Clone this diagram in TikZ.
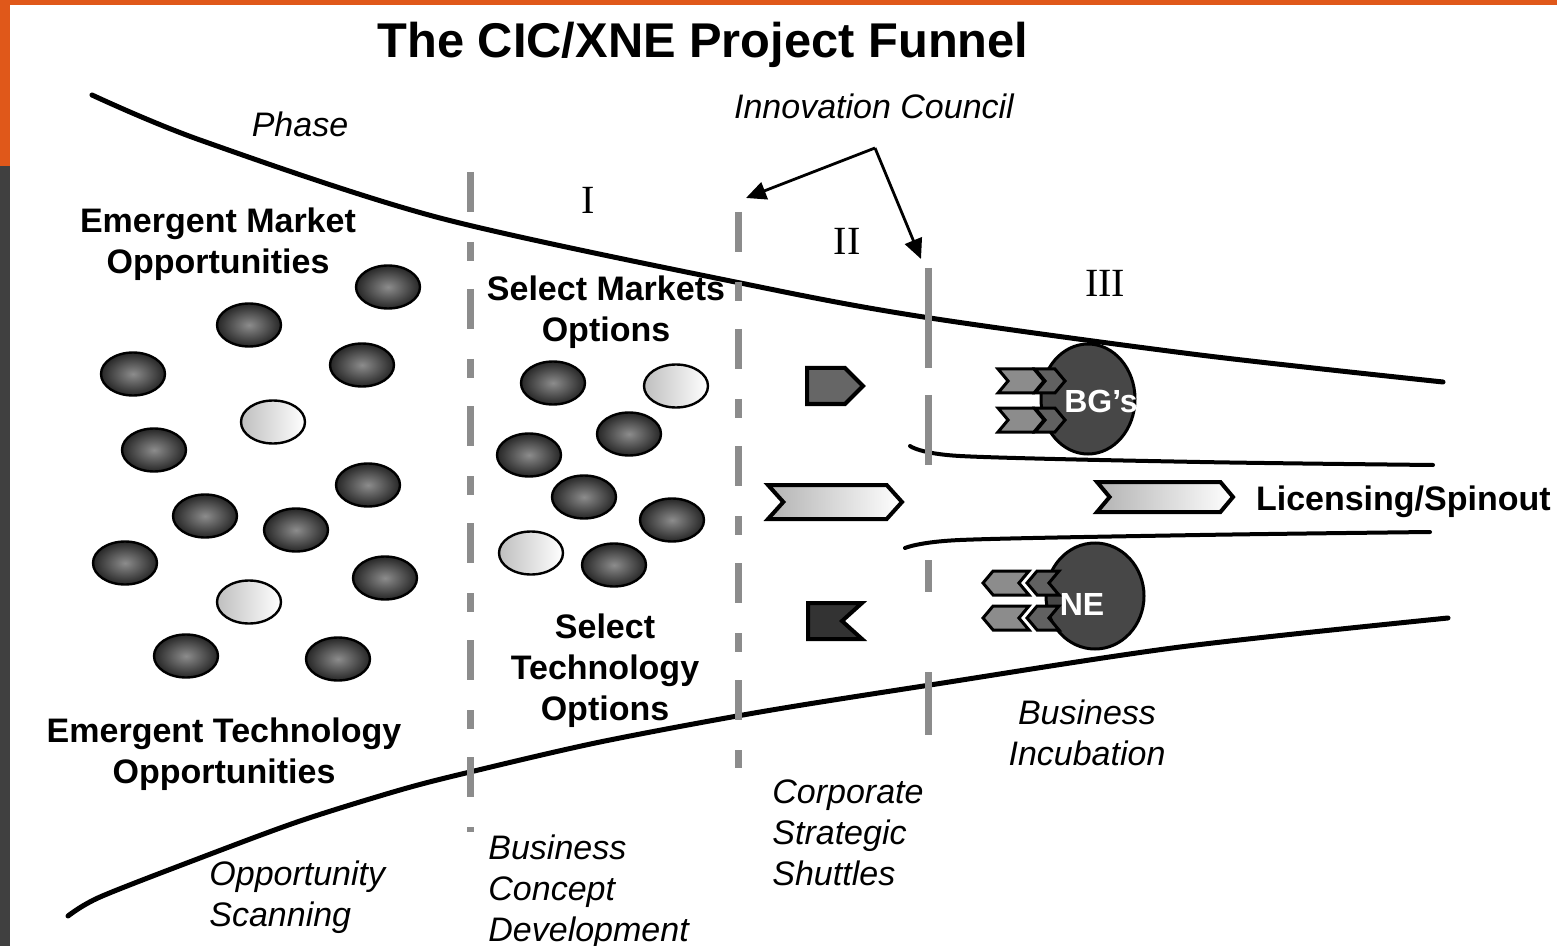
\documentclass[tikz,border=0pt]{standalone}
\usepackage{fontspec}
\setmainfont{Liberation Sans}
\newfontfamily\romfont{Liberation Serif}
\usetikzlibrary{positioning,shapes.geometric,shapes.symbols,arrows.meta}
\definecolor{barorange}{RGB}{224,88,26}
\definecolor{bargray}{RGB}{64,64,64}
\tikzset{
  funnel/.style={line width=2.5pt, line cap=round},
  channel/.style={line width=2pt, line cap=round},
  gate/.style={line width=3.5pt, draw=black!45, dash pattern=on 20pt off 15pt on 9.5pt off 14pt},
  coin/.style={ellipse, draw=black, line width=1.2pt, inner sep=0pt, minimum width=32pt, minimum height=21.5pt, inner color=black!45, outer color=black!85},
  palecoin/.style={coin, left color=black!25, right color=white},
  chev/.style={shape=signal, draw=black, line width=1.5pt, fill=black!45, inner sep=0pt, signal pointer angle=100, minimum width=23pt, minimum height=12pt},
  notch/.style={chev, fill=black!62},
  blob/.style={ellipse, draw=black, line width=1.5pt, fill=black!72, inner sep=0pt},
  blobtxt/.style={font=\bfseries\fontsize{16}{18}\selectfont, text=white, inner sep=0pt},
  boldlbl/.style={font=\bfseries\fontsize{17}{20.5}\selectfont, align=center, inner sep=0pt},
  itlbl/.style={font=\itshape\fontsize{17}{20.5}\selectfont, align=left, inner sep=0pt},
  romnum/.style={font=\romfont\fontsize{20}{24}\selectfont, inner sep=0pt},
  council/.style={line width=1.4pt, -{Triangle[length=10pt, width=9pt]}},
}

\begin{document}
\begin{tikzpicture}[x=0.5pt, y=-0.5pt]
    \useasboundingbox (0,0) rectangle (1557,946);
    % Frame
    \fill[white] (0,0) rectangle (1557,946);
    \fill[barorange] (0,0) rectangle (1557,5);
    \fill[barorange] (0,0) rectangle (10,166);
    \fill[bargray] (0,166) rectangle (10,946);

    % Funnel walls
    \draw[funnel] plot[smooth] coordinates {(92,95) (200,140) (440,218) (760,287) (930,318) (1200,355) (1443,382)};
    \draw[funnel] plot[smooth] coordinates {(68,916) (100,897) (200,858) (300,821) (400,790) (470,772) (600,742) (760,712) (930,685) (1180,647) (1448,618)};

    % Licensing channel
    \draw[channel] plot[smooth] coordinates {(910,446) (960,456) (1200,462) (1433,465)};
    \draw[channel] plot[smooth] coordinates {(905,548) (960,540) (1200,535) (1430,532)};

    % Phase gates
    \draw[gate] (470,172) -- (470,832);
    \draw[gate] (738,212) -- (738,768);
    \draw[gate, dash pattern=on 50pt off 13.5pt on 35pt off 47.5pt on 16pt off 40pt on 31.5pt off 20pt] (928,268) -- (928,735);

    % Market and technology coins
    \node[coin] (m1) at (388,287) {};
    \node[coin] (m2) at (249,325) {};
    \node[coin] (m3) at (362,365) {};
    \node[coin] (m4) at (133,374) {};
    \node[palecoin] (m5) at (273,422) {};
    \node[coin] (m6) at (154,450) {};
    \node[coin] (m7) at (368,485) {};
    \node[coin] (m8) at (205,516) {};
    \node[coin] (m9) at (296,530) {};
    \node[coin] (m10) at (125,563) {};
    \node[coin] (m11) at (385,578) {};
    \node[palecoin] (m12) at (249,602) {};
    \node[coin] (m13) at (186,656) {};
    \node[coin] (m14) at (338,659) {};

    % Selected coins
    \node[coin] (s1) at (553,383) {};
    \node[palecoin] (s2) at (676,386) {};
    \node[coin] (s3) at (629,434) {};
    \node[coin] (s4) at (529,455) {};
    \node[coin] (s5) at (584,497) {};
    \node[coin] (s6) at (672,520) {};
    \node[palecoin] (s7) at (531,553) {};
    \node[coin] (s8) at (614,565) {};

    % Shuttles
    \node[shape=signal, signal to=east, signal pointer angle=90, draw=black, line width=2pt, fill=black!60, inner sep=0pt, minimum width=28pt, minimum height=18pt] (tag) at (826,386) {};
    \node[shape=signal, signal from=west, signal to=east, signal pointer angle=96, draw=black, line width=2pt, left color=black!30, right color=white, inner sep=0pt, minimum width=67pt, minimum height=17pt] (shuttle) at (835,502) {};
    \node[shape=signal, signal from=east, signal to=nowhere, signal pointer angle=84, draw=black, line width=2pt, fill=black!80, inner sep=0pt, minimum width=27pt, minimum height=18pt] (flag) at (825,621) {};

    % Business groups
    \node[blob, minimum width=47pt, minimum height=55pt] (bgs) at (1088,399) {};
    \node[chev, signal from=west, signal to=east] (bgA1) at (1021,381) {};
    \node[chev, signal from=west, signal to=east] (bgB1) at (1021,420) {};
    \node[notch, signal from=west, signal to=east, minimum width=15pt] (bgA2) at (1050,381) {};
    \node[notch, signal from=west, signal to=east, minimum width=15pt] (bgB2) at (1050,420) {};
    \node[blobtxt] (bgtxt) at (1101,401) {BG's};

    % New enterprise
    \node[blob, minimum width=49pt, minimum height=53pt] (ne) at (1095,596) {};
    \node[chev, signal from=east, signal to=west] (neA1) at (1006,583) {};
    \node[chev, signal from=east, signal to=west] (neB1) at (1006,618) {};
    \node[notch, signal from=east, signal to=west, minimum width=16pt] (neA2) at (1043,583) {};
    \node[notch, signal from=east, signal to=west, minimum width=16pt] (neB2) at (1043,618) {};
    \node[blobtxt] (netxt) at (1082,604) {NE};

    % Licensing
    \node[shape=signal, signal from=west, signal to=east, signal pointer angle=100, draw=black, line width=2pt, left color=black!30, right color=white, inner sep=0pt, minimum width=68pt, minimum height=15pt] (lic) at (1165,497) {};
    \node[boldlbl, right=10pt of lic, yshift=-2.5pt] (lictxt) {Licensing/Spinout};

    % Headings
    \node[font=\bfseries\fontsize{24.4}{28}\selectfont, inner sep=0pt] (title) at (703,45) {The CIC/XNE Project Funnel};
    \node[itlbl] (phase) at (300,124) {Phase};
    \node[itlbl] (council) at (874,106) {Innovation Council};
    \node[romnum] (ph1) at (588,200) {I};
    \node[romnum] (ph2) at (847,241) {II};
    \node[romnum] (ph3) at (1105,283) {III};

    % Innovation council arrows
    \coordinate (fork) at (875,148);
    \coordinate (gate2top) at (746,198);
    \coordinate (gate3top) at (921,259);
    \draw[council] (fork) -- (gate2top);
    \draw[council] (fork) -- (gate3top);

    % Labels
    \node[boldlbl] (emmkt) at (218,244) {Emergent Market\\Opportunities};
    \node[boldlbl] (selmkt) at (606,312) {Select Markets\\Options};
    \node[boldlbl] (seltech) at (605,671) {Select\\Technology\\Options};
    \node[boldlbl] (emtech) at (224,754) {Emergent Technology\\Opportunities};

    % Stage names
    \node[itlbl, anchor=west] (scan) at (209,897) {Opportunity\\Scanning};
    \node[itlbl, anchor=west] (concept) at (488,892) {Business\\Concept\\Development};
    \node[itlbl, anchor=west] (shuttles) at (772,833) {Corporate\\Strategic\\Shuttles};
    \node[itlbl, align=center] (incub) at (1087,733) {Business\\Incubation};
\end{tikzpicture}
\end{document}
